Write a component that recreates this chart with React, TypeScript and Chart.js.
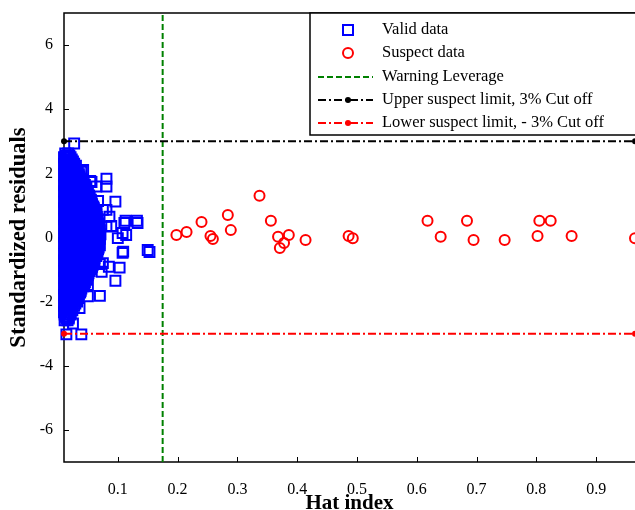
import React, { useEffect, useRef } from 'react';
import { Chart, registerables } from 'chart.js';

Chart.register(...registerables);

// ---- axis settings / tick labels ----
const xTicks = [0.1, 0.2, 0.3, 0.4, 0.5, 0.6, 0.7, 0.8, 0.9];
const yTicks = [-6, -4, -2, 0, 2, 4, 6];
const xMin = 0.01;
const xMax = 0.965;
const yMin = -7;
const yMax = 7;

// ---- reference lines ----
const warningLeverage = 0.175;
const upperLimit = 3;
const lowerLimit = -3;
const limitX = [0.01, 0.965];

// ---- legend labels ----
const legendLabels = [
  'Valid data',
  'Suspect data',
  'Warning Leverage',
  'Upper suspect limit, 3% Cut off',
  'Lower suspect limit, - 3% Cut off',
];

// ---- valid data: dense cluster, rows of [residual, hat values] ----
const validRows: [number, number[]][] = [
  [2.62, [0.012, 0.017]],
  [2.5, [0.010, 0.016, 0.021]],
  [2.37, [0.013, 0.019, 0.025]],
  [2.24, [0.011, 0.017, 0.024, 0.030]],
  [2.11, [0.012, 0.019, 0.025, 0.031]],
  [1.97, [0.010, 0.016, 0.023, 0.029, 0.035]],
  [1.84, [0.013, 0.019, 0.026, 0.033, 0.038]],
  [1.71, [0.011, 0.017, 0.024, 0.030, 0.037, 0.043]],
  [1.57, [0.012, 0.019, 0.025, 0.032, 0.039, 0.046]],
  [1.44, [0.010, 0.016, 0.023, 0.030, 0.036, 0.043, 0.049]],
  [1.31, [0.013, 0.020, 0.026, 0.033, 0.040, 0.046, 0.052]],
  [1.18, [0.011, 0.017, 0.024, 0.031, 0.038, 0.044, 0.051, 0.055]],
  [1.04, [0.012, 0.019, 0.025, 0.032, 0.039, 0.045, 0.052, 0.057]],
  [0.91, [0.010, 0.016, 0.023, 0.030, 0.037, 0.043, 0.050, 0.056, 0.060]],
  [0.77, [0.013, 0.020, 0.026, 0.033, 0.040, 0.047, 0.053, 0.059, 0.063]],
  [0.64, [0.011, 0.017, 0.024, 0.031, 0.038, 0.045, 0.051, 0.058, 0.065]],
  [0.5, [0.012, 0.019, 0.025, 0.032, 0.039, 0.046, 0.053, 0.060, 0.066]],
  [0.37, [0.010, 0.016, 0.023, 0.030, 0.037, 0.044, 0.051, 0.057, 0.064, 0.068]],
  [0.23, [0.013, 0.020, 0.026, 0.033, 0.040, 0.047, 0.054, 0.061, 0.067, 0.070]],
  [0.1, [0.011, 0.017, 0.024, 0.031, 0.038, 0.045, 0.052, 0.059, 0.066, 0.071]],
  [-0.04, [0.012, 0.019, 0.025, 0.032, 0.039, 0.046, 0.053, 0.060, 0.066, 0.070]],
  [-0.17, [0.010, 0.016, 0.023, 0.030, 0.037, 0.044, 0.051, 0.058, 0.065, 0.069]],
  [-0.31, [0.013, 0.020, 0.026, 0.033, 0.040, 0.047, 0.054, 0.061, 0.068]],
  [-0.44, [0.011, 0.017, 0.024, 0.031, 0.038, 0.045, 0.052, 0.059, 0.066]],
  [-0.58, [0.012, 0.019, 0.025, 0.032, 0.039, 0.046, 0.053, 0.060, 0.064]],
  [-0.71, [0.010, 0.016, 0.023, 0.030, 0.037, 0.044, 0.051, 0.057, 0.061]],
  [-0.85, [0.013, 0.020, 0.026, 0.033, 0.040, 0.047, 0.053, 0.058]],
  [-0.98, [0.011, 0.017, 0.024, 0.031, 0.038, 0.044, 0.050, 0.055]],
  [-1.12, [0.012, 0.019, 0.025, 0.032, 0.039, 0.045, 0.051]],
  [-1.25, [0.010, 0.016, 0.023, 0.030, 0.036, 0.042, 0.048]],
  [-1.39, [0.013, 0.020, 0.026, 0.033, 0.039, 0.045]],
  [-1.52, [0.011, 0.017, 0.024, 0.030, 0.036, 0.042]],
  [-1.66, [0.012, 0.019, 0.025, 0.031, 0.038]],
  [-1.79, [0.010, 0.016, 0.023, 0.029, 0.035]],
  [-1.93, [0.013, 0.019, 0.025, 0.031]],
  [-2.06, [0.011, 0.017, 0.023, 0.029]],
  [-2.2, [0.012, 0.018, 0.024]],
  [-2.33, [0.010, 0.016, 0.021]],
  [-2.47, [0.013, 0.018]],
  [-2.58, [0.011, 0.016]],
];

// ---- valid data: in-between rows of the dense cluster ----
const validRowsMid: [number, number[]][] = [
  [2.56, [0.014, 0.019]],
  [2.43, [0.012, 0.018, 0.023]],
  [2.3, [0.010, 0.015, 0.021, 0.027]],
  [2.17, [0.014, 0.021, 0.028]],
  [2.04, [0.013, 0.020, 0.027, 0.033]],
  [1.9, [0.011, 0.018, 0.024, 0.031, 0.036]],
  [1.77, [0.014, 0.021, 0.028, 0.035, 0.040]],
  [1.64, [0.010, 0.016, 0.022, 0.028, 0.035, 0.041, 0.045]],
  [1.5, [0.013, 0.021, 0.028, 0.035, 0.042, 0.047]],
  [1.37, [0.011, 0.018, 0.025, 0.031, 0.038, 0.044, 0.050]],
  [1.24, [0.014, 0.021, 0.028, 0.035, 0.041, 0.048, 0.053]],
  [1.11, [0.010, 0.015, 0.022, 0.029, 0.036, 0.042, 0.049, 0.056]],
  [0.97, [0.013, 0.021, 0.027, 0.034, 0.041, 0.048, 0.054, 0.059]],
  [0.84, [0.011, 0.018, 0.025, 0.031, 0.038, 0.045, 0.052, 0.058, 0.062]],
  [0.7, [0.014, 0.022, 0.028, 0.035, 0.042, 0.049, 0.055, 0.061, 0.064]],
  [0.57, [0.010, 0.015, 0.021, 0.028, 0.035, 0.042, 0.049, 0.056, 0.062, 0.066]],
  [0.44, [0.013, 0.021, 0.028, 0.035, 0.042, 0.048, 0.055, 0.062, 0.067]],
  [0.3, [0.011, 0.018, 0.025, 0.032, 0.039, 0.045, 0.052, 0.059, 0.065, 0.069]],
  [0.17, [0.014, 0.022, 0.029, 0.036, 0.042, 0.049, 0.056, 0.063, 0.068]],
  [0.03, [0.010, 0.015, 0.021, 0.028, 0.035, 0.042, 0.049, 0.056, 0.063, 0.069]],
  [-0.1, [0.013, 0.021, 0.028, 0.035, 0.042, 0.049, 0.055, 0.062, 0.068]],
  [-0.24, [0.011, 0.018, 0.025, 0.032, 0.039, 0.045, 0.052, 0.059, 0.066, 0.070]],
  [-0.37, [0.014, 0.022, 0.029, 0.036, 0.042, 0.049, 0.056, 0.063, 0.067]],
  [-0.51, [0.010, 0.015, 0.021, 0.028, 0.035, 0.042, 0.049, 0.056, 0.062, 0.065]],
  [-0.64, [0.013, 0.021, 0.028, 0.035, 0.042, 0.048, 0.055, 0.061]],
  [-0.78, [0.011, 0.018, 0.025, 0.031, 0.038, 0.045, 0.052, 0.057, 0.060]],
  [-0.91, [0.014, 0.022, 0.029, 0.036, 0.042, 0.048, 0.053, 0.057]],
  [-1.05, [0.010, 0.015, 0.021, 0.028, 0.035, 0.041, 0.047, 0.053]],
  [-1.18, [0.013, 0.021, 0.028, 0.034, 0.041, 0.047, 0.050]],
  [-1.32, [0.011, 0.018, 0.025, 0.031, 0.038, 0.044, 0.047]],
  [-1.45, [0.014, 0.022, 0.028, 0.034, 0.040, 0.044]],
  [-1.59, [0.010, 0.015, 0.021, 0.027, 0.033, 0.039]],
  [-1.72, [0.013, 0.021, 0.027, 0.033, 0.037]],
  [-1.86, [0.011, 0.018, 0.025, 0.031, 0.034]],
  [-2.0, [0.014, 0.021, 0.027, 0.032]],
  [-2.13, [0.010, 0.015, 0.021, 0.027]],
  [-2.27, [0.013, 0.019, 0.024]],
  [-2.4, [0.011, 0.017, 0.021]],
  [-2.53, [0.014, 0.018]],
];

// ---- valid data: scattered points around the cluster [hat, residual] ----
const validOutliers: [number, number][] = [
  [0.027, 2.93], [0.022, 2.39], [0.042, 2.11], [0.039, 2.05], [0.054, 1.76],
  [0.056, 1.73], [0.081, 1.83], [0.081, 1.59], [0.064, 1.59], [0.096, 1.12],
  [0.067, 1.14], [0.081, 0.86], [0.056, 0.86], [0.075, 0.86], [0.086, 0.65],
  [0.089, 0.36], [0.081, 0.34], [0.111, 0.45], [0.113, 0.52], [0.132, 0.52],
  [0.133, 0.45], [0.114, 0.08], [0.108, 0.14], [0.100, -0.02], [0.108, -0.48],
  [0.109, -0.44], [0.150, -0.39], [0.153, -0.45], [0.103, -0.94], [0.085, -0.91],
  [0.070, -0.83], [0.075, -0.80], [0.073, -1.07], [0.096, -1.35], [0.050, -1.48],
  [0.070, -1.82], [0.050, -1.83], [0.036, -2.20], [0.025, -2.68], [0.014, -3.02],
  [0.039, -3.02],
];

// ---- suspect data ----
const suspectX = [
  0.198, 0.215, 0.240, 0.255, 0.259, 0.284, 0.289, 0.337, 0.356, 0.368,
  0.386, 0.371, 0.378, 0.414, 0.486, 0.493, 0.618, 0.640, 0.684, 0.695,
  0.747, 0.802, 0.805, 0.824, 0.859, 0.965,
];
const suspectY = [
  0.08, 0.17, 0.48, 0.05, -0.05, 0.70, 0.23, 1.30, 0.52, 0.02,
  0.08, -0.33, -0.17, -0.08, 0.05, -0.02, 0.52, 0.02, 0.52, -0.08,
  -0.08, 0.05, 0.52, 0.52, 0.05, -0.02,
];

const SERIF = "'Liberation Serif', 'Times New Roman', serif";
const BLUE = '#0000ff';
const RED = '#ff0000';
const GREEN = '#008000';
const BLACK = '#000000';
const DASHDOT = [8, 3, 2, 3];

const framePlugin = {
  id: 'frame',
  beforeDatasetsDraw(chart: any) {
    const { ctx, chartArea: a, scales } = chart;
    const xs = scales.x;
    const ys = scales.y;
    ctx.save();
    ctx.strokeStyle = BLACK;
    ctx.lineWidth = 1.5;
    ctx.setLineDash([]);
    ctx.beginPath();
    ctx.moveTo(a.right + 5, a.top);
    ctx.lineTo(a.left, a.top);
    ctx.lineTo(a.left, a.bottom);
    ctx.lineTo(a.right + 5, a.bottom);
    ctx.stroke();
    ctx.lineWidth = 1;
    ctx.beginPath();
    xTicks.forEach((v) => {
      const px = Math.round(xs.getPixelForValue(v)) + 0.5;
      ctx.moveTo(px, a.bottom);
      ctx.lineTo(px, a.bottom - 5);
    });
    yTicks.forEach((v) => {
      const py = Math.round(ys.getPixelForValue(v)) + 0.5;
      ctx.moveTo(a.left, py);
      ctx.lineTo(a.left + 5, py);
    });
    ctx.stroke();
    ctx.restore();
  },
};

const legendPlugin = {
  id: 'customLegend',
  afterDraw(chart: any) {
    const { ctx, chartArea: a } = chart;
    const left = 310;
    const top = a.top;
    const bottom = 135;
    const mx = 348;
    const lx0 = 318;
    const lx1 = 373;
    const tx = 382;
    const rows = [30, 53, 77, 100, 123];
    ctx.save();
    ctx.fillStyle = '#ffffff';
    ctx.fillRect(left, top, chart.width - left + 5, bottom - top);
    ctx.strokeStyle = BLACK;
    ctx.lineWidth = 1.5;
    ctx.setLineDash([]);
    ctx.strokeRect(left, top, chart.width - left + 5, bottom - top);

    ctx.lineWidth = 2;
    ctx.strokeStyle = BLUE;
    ctx.strokeRect(mx - 5, rows[0] - 5, 10, 10);
    ctx.strokeStyle = RED;
    ctx.beginPath();
    ctx.arc(mx, rows[1], 5, 0, Math.PI * 2);
    ctx.stroke();
    ctx.strokeStyle = GREEN;
    ctx.setLineDash([6, 3]);
    ctx.beginPath();
    ctx.moveTo(lx0, rows[2]);
    ctx.lineTo(lx1, rows[2]);
    ctx.stroke();
    [[BLACK, rows[3]], [RED, rows[4]]].forEach(([c, y]: any) => {
      ctx.strokeStyle = c;
      ctx.fillStyle = c;
      ctx.setLineDash(DASHDOT);
      ctx.beginPath();
      ctx.moveTo(lx0, y);
      ctx.lineTo(lx1, y);
      ctx.stroke();
      ctx.setLineDash([]);
      ctx.beginPath();
      ctx.arc(mx, y, 3, 0, Math.PI * 2);
      ctx.fill();
    });

    ctx.fillStyle = BLACK;
    ctx.font = `16.5px ${SERIF}`;
    ctx.textBaseline = 'middle';
    ctx.textAlign = 'left';
    legendLabels.forEach((t, i) => ctx.fillText(t, tx, rows[i]));
    ctx.restore();
  },
};

export default function App() {
  const canvasRef = useRef<HTMLCanvasElement | null>(null);

  useEffect(() => {
    const canvas = canvasRef.current;
    if (!canvas) return;

    const validData: { x: number; y: number }[] = [];
    validRows.forEach(([yv, xs]) => xs.forEach((xv) => validData.push({ x: xv, y: yv })));
    validRowsMid.forEach(([yv, xs]) => xs.forEach((xv) => validData.push({ x: xv, y: yv })));
    validOutliers.forEach(([xv, yv]) => validData.push({ x: xv, y: yv }));
    const suspectData = suspectX.map((xv, i) => ({ x: xv, y: suspectY[i] }));

    const chart = new Chart(canvas, {
      type: 'scatter',
      data: {
        datasets: [
          {
            label: legendLabels[3],
            data: limitX.map((xv) => ({ x: xv, y: upperLimit })),
            showLine: true,
            borderColor: BLACK,
            borderWidth: 2,
            borderDash: DASHDOT,
            pointRadius: 3,
            pointBackgroundColor: BLACK,
            pointBorderWidth: 0,
            clip: false,
          } as any,
          {
            label: legendLabels[4],
            data: limitX.map((xv) => ({ x: xv, y: lowerLimit })),
            showLine: true,
            borderColor: RED,
            borderWidth: 2,
            borderDash: DASHDOT,
            pointRadius: 3,
            pointBackgroundColor: RED,
            pointBorderWidth: 0,
            clip: false,
          } as any,
          {
            label: legendLabels[2],
            data: [
              { x: warningLeverage, y: yMin },
              { x: warningLeverage, y: yMax },
            ],
            showLine: true,
            borderColor: GREEN,
            borderWidth: 2,
            borderDash: [6, 3],
            pointRadius: 0,
            clip: false,
          } as any,
          {
            label: legendLabels[1],
            data: suspectData,
            pointStyle: 'circle',
            pointRadius: 5,
            pointBorderWidth: 2,
            pointBorderColor: RED,
            pointBackgroundColor: 'rgba(0,0,0,0)',
            clip: false,
          } as any,
          {
            label: legendLabels[0],
            data: validData,
            pointStyle: 'rect',
            pointRadius: 7,
            pointBorderWidth: 2,
            pointBorderColor: BLUE,
            pointBackgroundColor: 'rgba(0,0,0,0)',
            clip: false,
          } as any,
        ],
      },
      options: {
        animation: false,
        responsive: false,
        events: [],
        layout: { autoPadding: false, padding: { top: 13, left: 0, right: 0, bottom: 0 } },
        plugins: {
          legend: { display: false },
          tooltip: { enabled: false },
        },
        scales: {
          x: {
            type: 'linear',
            min: xMin,
            max: xMax,
            afterBuildTicks: (s: any) => {
              s.ticks = xTicks.map((v) => ({ value: v }));
            },
            afterFit: (s: any) => {
              s.height = 48;
              s.paddingLeft = 0;
              s.paddingRight = 0;
              s.paddingTop = 0;
              s.paddingBottom = 0;
            },
            grid: { display: false, drawTicks: false },
            border: { display: false },
            ticks: {
              padding: 18,
              color: BLACK,
              font: { family: SERIF, size: 16 },
              maxRotation: 0,
              autoSkip: false,
              callback: (v: any) => String(v),
            },
            title: {
              display: true,
              text: 'Hat index',
              color: BLACK,
              font: { family: SERIF, size: 21, weight: 'bold', lineHeight: 0.6 },
              padding: { top: 0, bottom: 0 },
            },
          },
          y: {
            type: 'linear',
            min: yMin,
            max: yMax,
            afterBuildTicks: (s: any) => {
              s.ticks = yTicks.map((v) => ({ value: v }));
            },
            afterFit: (s: any) => {
              s.width = 64;
              s.paddingLeft = 0;
              s.paddingRight = 0;
              s.paddingTop = 0;
              s.paddingBottom = 0;
            },
            grid: { display: false, drawTicks: false },
            border: { display: false },
            ticks: {
              padding: 11,
              color: BLACK,
              font: { family: SERIF, size: 16 },
              autoSkip: false,
              callback: (v: any) => String(v),
            },
            title: {
              display: true,
              text: 'Standardized residuals',
              color: BLACK,
              font: { family: SERIF, size: 22.5, weight: 'bold' },
              padding: { top: 6, bottom: 0 },
            },
          },
        },
      } as any,
      plugins: [framePlugin, legendPlugin],
    });

    return () => chart.destroy();
  }, []);

  return (
    <div style={{ position: 'fixed', left: 0, top: 0, width: 635, height: 510, background: '#fff' }}>
      <canvas ref={canvasRef} width={635} height={510} style={{ display: 'block' }} />
    </div>
  );
}
